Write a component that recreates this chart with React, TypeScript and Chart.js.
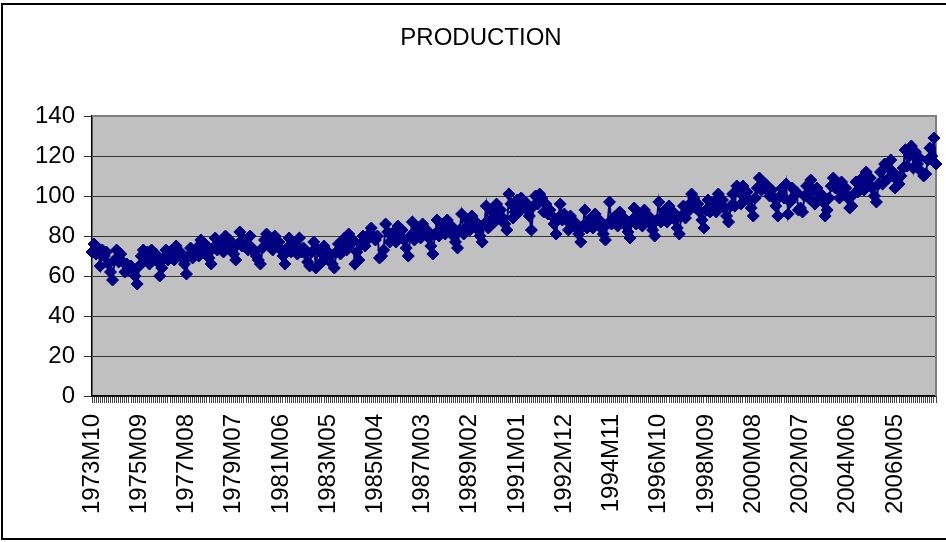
import { useEffect, useRef } from 'react';
import { Chart, registerables } from 'chart.js';

Chart.register(...registerables);

const TITLE = 'PRODUCTION';
const START_YEAR = 1973;
const START_MONTH = 10;
const LABEL_EVERY = 23;
const Y_MIN = 0;
const Y_MAX = 140;
const Y_STEP = 20;

const y1973 = [72, 76, 71];
const y1974 = [74, 65, 73, 70, 72, 66, 62, 58, 68, 73, 67, 71];
const y1975 = [67, 62, 66, 63, 65, 62, 60, 56, 65, 70, 73, 68];
const y1976 = [72, 66, 73, 69, 71, 67, 60, 64, 69, 73, 68, 72];
const y1977 = [73, 68, 75, 70, 72, 69, 66, 61, 70, 74, 69, 72];
const y1978 = [74, 70, 78, 74, 76, 72, 69, 66, 74, 79, 73, 76];
const y1979 = [77, 72, 80, 76, 78, 74, 71, 68, 76, 82, 75, 78];
const y1980 = [78, 73, 80, 74, 72, 70, 68, 66, 74, 78, 81, 76];
const y1981 = [78, 73, 80, 75, 77, 73, 70, 66, 74, 79, 72, 75];
const y1982 = [76, 71, 79, 72, 74, 71, 67, 65, 72, 77, 64, 73];
const y1983 = [72, 67, 75, 70, 72, 70, 66, 64, 72, 76, 71, 74];
const y1984 = [79, 73, 81, 76, 78, 66, 72, 68, 76, 80, 75, 78];
const y1985 = [81, 84, 80, 78, 80, 69, 70, 73, 86, 82, 77, 80];
const y1986 = [82, 77, 85, 80, 83, 78, 74, 70, 80, 87, 78, 81];
const y1987 = [84, 79, 86, 81, 83, 79, 75, 71, 81, 88, 80, 83];
const y1988 = [86, 81, 88, 83, 85, 80, 77, 74, 83, 91, 81, 84];
const y1989 = [88, 83, 90, 85, 87, 83, 80, 77, 86, 95, 84, 88];
const y1990 = [92, 87, 96, 90, 93, 89, 86, 83, 101, 96, 89, 92];
const y1991 = [98, 92, 99, 95, 97, 93, 90, 83, 95, 100, 96, 101];
const y1992 = [99, 92, 96, 91, 93, 90, 86, 81, 89, 96, 88, 91];
const y1993 = [88, 83, 90, 85, 87, 84, 81, 77, 85, 93, 84, 87];
const y1994 = [89, 84, 91, 86, 88, 84, 81, 78, 86, 97, 86, 89];
const y1995 = [90, 85, 92, 87, 89, 85, 82, 79, 88, 94, 86, 89];
const y1996 = [91, 85, 93, 88, 90, 86, 83, 80, 88, 97, 87, 90];
const y1997 = [93, 87, 95, 90, 92, 88, 84, 81, 90, 95, 89, 92];
const y1998 = [96, 101, 99, 94, 96, 92, 88, 84, 93, 98, 92, 95];
const y1999 = [97, 92, 101, 96, 98, 94, 90, 87, 95, 101, 95, 105];
const y2000 = [102, 96, 105, 100, 102, 98, 94, 90, 99, 104, 109, 103];
const y2001 = [104, 106, 103, 100, 103, 99, 95, 90, 100, 104, 99, 106];
const y2002 = [91, 97, 104, 100, 102, 93, 94, 92, 100, 105, 99, 108];
const y2003 = [103, 96, 104, 99, 101, 97, 90, 93, 99, 105, 109, 104];
const y2004 = [104, 99, 107, 102, 104, 99, 94, 95, 101, 107, 102, 105];
const y2005 = [109, 103, 112, 106, 109, 104, 100, 97, 106, 112, 106, 116];
const y2006 = [115, 109, 118, 112, 104, 108, 106, 110, 114, 123, 115, 120];
const y2007 = [125, 114, 122, 116, 119, 112, 110, 111, 118, 124, 120, 129];
const y2008 = [116];

const production: number[] = [
  ...y1973, ...y1974, ...y1975, ...y1976, ...y1977, ...y1978, ...y1979,
  ...y1980, ...y1981, ...y1982, ...y1983, ...y1984, ...y1985, ...y1986,
  ...y1987, ...y1988, ...y1989, ...y1990, ...y1991, ...y1992, ...y1993,
  ...y1994, ...y1995, ...y1996, ...y1997, ...y1998, ...y1999, ...y2000,
  ...y2001, ...y2002, ...y2003, ...y2004, ...y2005, ...y2006, ...y2007,
  ...y2008,
];

const months: string[] = [];
{
  let yr = START_YEAR;
  let mo = START_MONTH;
  for (let i = 0; i < production.length; i++) {
    months.push(`${yr}M${String(mo).padStart(2, '0')}`);
    mo++;
    if (mo > 12) {
      mo = 1;
      yr++;
    }
  }
}

const FONT = '"Liberation Sans", Arial, sans-serif';

const framePlugin = {
  id: 'framePlugin',
  beforeDraw(chart: any) {
    const { ctx, chartArea: a } = chart;
    ctx.save();
    ctx.fillStyle = '#ffffff';
    ctx.fillRect(0, 0, chart.width, chart.height);
    ctx.fillStyle = '#C0C0C0';
    ctx.fillRect(a.left, a.top, a.right - a.left, a.bottom - a.top);
    ctx.restore();
  },
  beforeDatasetsDraw(chart: any) {
    const { ctx, chartArea: a } = chart;
    ctx.save();
    ctx.strokeStyle = '#808080';
    ctx.lineWidth = 2;
    ctx.beginPath();
    ctx.moveTo(a.left, a.top);
    ctx.lineTo(a.right, a.top);
    ctx.lineTo(a.right, a.bottom);
    ctx.stroke();
    ctx.restore();
  },
  afterDraw(chart: any) {
    const { ctx } = chart;
    ctx.save();
    ctx.fillStyle = '#000';
    ctx.font = `24px ${FONT}`;
    ctx.textAlign = 'center';
    ctx.textBaseline = 'middle';
    ctx.fillText(TITLE, 481, 38);
    ctx.restore();
  },
};

export default function App() {
  const ref = useRef<HTMLCanvasElement | null>(null);

  useEffect(() => {
    if (!ref.current) return;
    const chart = new Chart(ref.current, {
      type: 'line',
      data: {
        labels: months,
        datasets: [
          {
            label: TITLE,
            data: production,
            borderColor: '#000080',
            backgroundColor: '#000080',
            borderWidth: 2,
            pointStyle: 'rectRot',
            pointRadius: 6,
            pointBorderWidth: 1,
            pointBackgroundColor: '#000080',
            pointBorderColor: '#000080',
            tension: 0,
          },
        ],
      },
      options: {
        responsive: false,
        animation: false,
        events: [],
        layout: { padding: { left: 0, right: 10, top: 116, bottom: 0 } },
        plugins: {
          legend: { display: false },
          title: { display: false },
          tooltip: { enabled: false },
        },
        scales: {
          x: {
            type: 'category',
            offset: false,
            grid: {
              drawOnChartArea: false,
              drawTicks: true,
              tickLength: 7,
              color: '#444',
              lineWidth: 1,
            },
            border: { display: true, color: '#000', width: 1.5 },
            ticks: {
              autoSkip: false,
              maxRotation: 90,
              minRotation: 90,
              padding: 11,
              color: '#000',
              font: { family: FONT, size: 24 },
              callback: (_v: any, i: number) => (i % LABEL_EVERY === 0 ? months[i] : ''),
            },
            afterFit: (s: any) => {
              s.height = 146;
              s.paddingLeft = 0;
              s.paddingRight = 0;
            },
          },
          y: {
            min: Y_MIN,
            max: Y_MAX,
            grid: {
              color: '#333',
              lineWidth: 1,
              drawTicks: true,
              tickLength: 8,
            },
            border: { display: true, color: '#000', width: 1.5 },
            ticks: {
              stepSize: Y_STEP,
              padding: 9,
              color: '#000',
              font: { family: FONT, size: 24 },
            },
            afterFit: (s: any) => {
              s.width = 92;
            },
          },
        },
      },
      plugins: [framePlugin],
    });
    return () => chart.destroy();
  }, []);

  return (
    <div style={{ position: 'absolute', left: 0, top: 0, width: 946, height: 542, overflow: 'hidden', background: '#fff' }}>
      <canvas ref={ref} width={946} height={542} style={{ position: 'absolute', left: 0, top: 0 }} />
      <div
        style={{
          position: 'absolute',
          left: 1,
          top: 3,
          width: 1000,
          height: 537,
          border: '2px solid #000',
          boxSizing: 'border-box',
          pointerEvents: 'none',
        }}
      />
    </div>
  );
}
